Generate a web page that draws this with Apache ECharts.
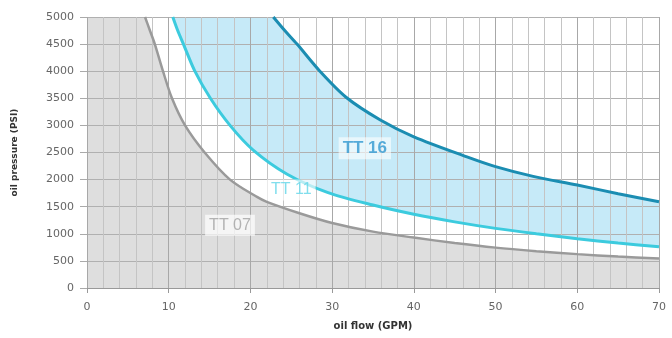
<!DOCTYPE html>
<html><head><meta charset="utf-8">
<script src="https://cdn.jsdelivr.net/npm/echarts@6/dist/echarts.min.js"></script>
<style>html,body{margin:0;padding:0;background:#fff}#c{width:672px;height:338px}</style>
</head><body><div id="c"></div>
<script>
// Data
var flow07 = [7.1, 7.7, 8.3, 9.3, 10.4, 12.0, 14.4, 17.5, 20.8, 22, 26, 30, 35, 40, 45, 50, 55, 60, 65, 70];
var p07    = [5000, 4750, 4500, 4000, 3500, 3000, 2500, 2000, 1680, 1590, 1380, 1200, 1040, 930, 830, 745, 680, 625, 580, 545];
var flow11 = [10.5, 11.1, 11.8, 13.2, 15.1, 17.5, 20.3, 24.5, 29.5, 35, 40, 45, 50, 55, 60, 65, 70];
var p11    = [5000, 4750, 4500, 4000, 3500, 3000, 2550, 2100, 1760, 1530, 1360, 1220, 1100, 1000, 910, 830, 760];
var flow16 = [22.8, 24.2, 25.7, 28.5, 31.7, 35.9, 40, 46.5, 50, 54.6, 60, 65, 70];
var p16    = [5000, 4750, 4500, 4000, 3520, 3100, 2790, 2420, 2240, 2060, 1900, 1740, 1590];
var xMin = 0, xMax = 70, xStep = 10;
var yMin = 0, yMax = 5000, yStep = 500;
var labels = [
  {text: 'TT 16', q: 34, p: 2580},
  {text: 'TT 11', q: 25, p: 1810},
  {text: 'TT 07', q: 17.5, p: 1160}
];

function pairs(xs, ys){ return xs.map(function(x,i){return [x, ys[i]];}); }
var d07 = pairs(flow07, p07), d11 = pairs(flow11, p11), d16 = pairs(flow16, p16);

var chart = echarts.init(document.getElementById('c'), null, {renderer:'canvas'});
var font = 'DejaVu Sans';
var SM = 0.3;

function polySeries(buildPts, color){
  return {
    type: 'custom', z: -1, silent: true, clip: true,
    data: [[0,0]],
    encode: {x: 0, y: 1},
    renderItem: function(params, api){
      var pts = buildPts().map(function(p){ return api.coord(p); });
      return {type: 'polygon', shape: {points: pts}, style: {fill: color}};
    }
  };
}

var grayPoly = function(){
  return [[xMin, yMin], [xMin, yMax]].concat(d07).concat([[xMax, yMin]]);
};
var bluePoly = function(){
  return [[flow11[0], yMax]].concat(d16).concat(d11.slice().reverse());
};

var option = {
  animation: false,
  grid: {left: 87, right: 13, top: 17, bottom: 50},
  xAxis: {
    type: 'value', min: xMin, max: xMax, interval: xStep,
    name: 'oil flow (GPM)', nameLocation: 'middle', nameGap: 33,
    nameTextStyle: {fontFamily: font, fontSize: 10, color: '#333', fontWeight: 'bold'},
    axisLine: {show: true, lineStyle: {color: '#999', width: 1}},
    axisTick: {show: true, length: 5, lineStyle: {color: '#999'}},
    axisLabel: {fontFamily: font, fontSize: 11, color: '#666', margin: 14},
    splitLine: {show: true, lineStyle: {color: '#a8a8a8', width: 1}},
    minorTick: {show: false, splitNumber: 5},
    minorSplitLine: {show: true, lineStyle: {color: '#c4c4c4', width: 1}}
  },
  yAxis: {
    type: 'value', min: yMin, max: yMax, interval: yStep,
    name: 'oil pressure (PSI)', nameLocation: 'middle', nameGap: 68,
    nameTextStyle: {fontFamily: font, fontSize: 9, color: '#333', fontWeight: 'bold'},
    axisLine: {show: false},
    axisTick: {show: true, length: 7, lineStyle: {color: '#aaa'}},
    axisLabel: {fontFamily: font, fontSize: 11, color: '#666', margin: 13,
      formatter: function(v){ return String(v); }},
    splitLine: {show: true, lineStyle: {color: '#b0b0b0', width: 1}}
  },
  series: [
    polySeries(grayPoly, '#dedede'),
    polySeries(bluePoly, '#c6eaf8'),
    {type: 'line', name: 'TT 07', data: d07, smooth: SM, showSymbol: false, z: 3,
     lineStyle: {color: '#9a9a9a', width: 2.5}},
    {type: 'line', name: 'TT 11', data: d11, smooth: SM, showSymbol: false, z: 3,
     lineStyle: {color: '#3ccbde', width: 3}},
    {type: 'line', name: 'TT 16', data: d16, smooth: SM, showSymbol: false, z: 3,
     lineStyle: {color: '#1b8db2', width: 3}},
    {type: 'scatter', symbolSize: 0, z: 5, silent: true,
     data: labels.map(function(l){ return {value: [l.q, l.p], name: l.text}; }),
     label: {show: true, position: 'inside', formatter: function(p){ return p.name; },
       fontFamily: 'Liberation Sans', fontSize: 16,
       backgroundColor: 'rgba(255,255,255,0.85)', padding: [3, 4, 2, 4]}}
  ]
};
option.series[5].data[0].label = {color: '#2f97cf', fontWeight: 'bold', fontSize: 17, backgroundColor: 'rgba(255,255,255,0.75)'};
option.series[5].data[1].label = {color: '#62d6e8', fontSize: 16, backgroundColor: 'rgba(255,255,255,0.8)'};
option.series[5].data[2].label = {color: '#a3a3a3', fontSize: 16, backgroundColor: 'rgba(255,255,255,0.85)'};
chart.setOption(option);
</script>
</body></html>
